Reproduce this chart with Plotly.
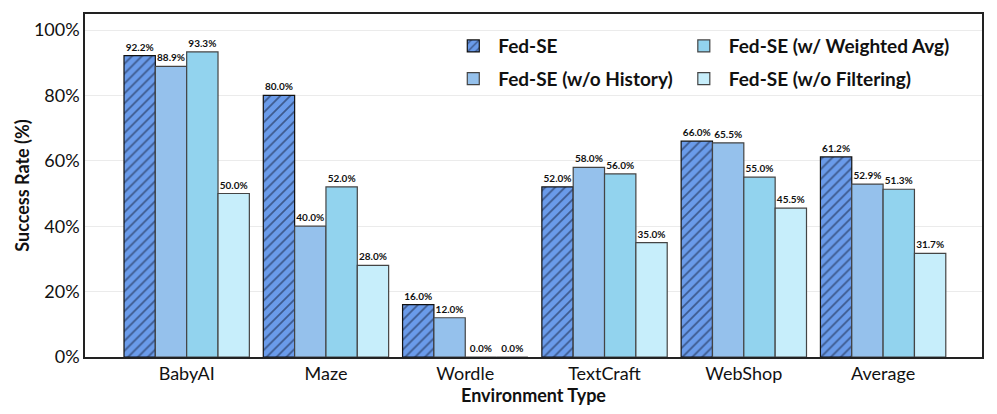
import plotly.graph_objects as go

categories = ["BabyAI", "Maze", "Wordle", "TextCraft", "WebShop", "Average"]
fed_se = [92.2, 80.0, 16.0, 52.0, 66.0, 61.2]
wo_history = [88.9, 40.0, 12.0, 58.0, 65.5, 52.9]
weighted_avg = [93.3, 52.0, 0.0, 56.0, 55.0, 51.3]
wo_filtering = [50.0, 28.0, 0.0, 35.0, 45.5, 31.7]

series = [
    ("Fed-SE", fed_se, "#6A9BEA", "#111111", "/", "legend"),
    ("Fed-SE (w/o History)", wo_history, "#95C1EC", "#444444", "", "legend"),
    ("Fed-SE (w/ Weighted Avg)", weighted_avg, "#92D3EE", "#444444", "", "legend2"),
    ("Fed-SE (w/o Filtering)", wo_filtering, "#C7EEFB", "#444444", "", "legend2"),
]

FONT = "Lato, Open Sans, sans-serif"

fig = go.Figure()
for name, vals, color, line, shape, leg in series:
    fig.add_trace(go.Bar(
        x=categories, y=vals, name=name,
        marker=dict(
            color=color,
            line=dict(color=line, width=1.2),
            pattern=dict(shape=shape, fgcolor="#101830", bgcolor=color, size=7, solidity=0.25) if shape else None,
        ),
        text=[f"{v:.1f}%" for v in vals],
        textposition="outside",
        textfont=dict(size=10, family=FONT, color="#111111", weight="bold"),
        cliponaxis=False,
        legend=leg,
        legendgroup=name,
    ))

leg_common = dict(
    xanchor="left", yanchor="top", y=0.962,
    bgcolor="rgba(0,0,0,0)", font=dict(size=19, weight="bold", family=FONT),
    tracegroupgap=5, itemwidth=40,
)

# page body has an 8px default margin, so the figure is sized to fit inside the window
fig.update_layout(
    width=981, height=398,
    margin=dict(l=77, r=7, t=6, b=49, autoexpand=False),
    paper_bgcolor="white", plot_bgcolor="white",
    barmode="group", bargap=0.1, bargroupgap=0,
    font=dict(family=FONT, color="#111111"),
    uniformtext=dict(minsize=10, mode="show"),
    legend=dict(x=0.405, **leg_common),
    legend2=dict(x=0.662, **leg_common),
    xaxis=dict(
        range=[-0.73, 5.71], automargin=False,
        title=dict(text="Environment Type", font=dict(size=18, weight="bold"), standoff=2),
        tickfont=dict(size=18),
        showline=True, linecolor="#222222", linewidth=1.5, mirror=True,
        ticks="", showgrid=False,
    ),
    yaxis=dict(
        range=[0, 104.9], automargin=False,
        tickvals=[0, 20, 40, 60, 80, 100],
        ticktext=["0%", "20%", "40%", "60%", "80%", "100%"],
        title=dict(text="Success Rate (%)", font=dict(size=18, weight="bold"), standoff=0),
        tickfont=dict(size=18),
        showline=True, linecolor="#222222", linewidth=1.5, mirror=True,
        showgrid=True, gridcolor="#EBEBEB", gridwidth=1,
        ticks="", zeroline=False,
    ),
)

fig.write_html("out.html")
